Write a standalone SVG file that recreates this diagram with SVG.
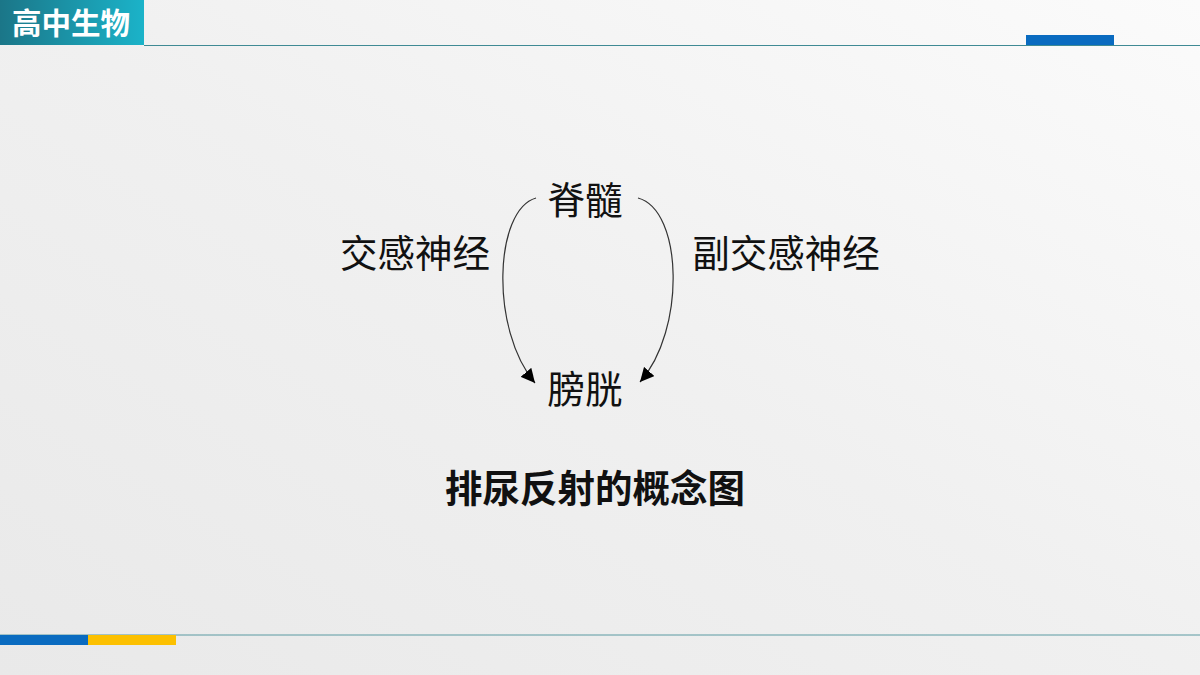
<svg xmlns="http://www.w3.org/2000/svg" width="1200" height="675" viewBox="0 0 1200 675">
<defs>
<linearGradient id="bg" x1="0" y1="1" x2="1" y2="0">
<stop offset="0" stop-color="#e9e9e9"/>
<stop offset="0.5" stop-color="#f0f0f0"/>
<stop offset="1" stop-color="#fbfbfb"/>
</linearGradient>
<linearGradient id="hd" x1="0" y1="0" x2="1" y2="0">
<stop offset="0" stop-color="#1b7688"/>
<stop offset="1" stop-color="#1bb3c9"/>
</linearGradient>
<marker id="ah" viewBox="0 0 10 10" refX="10" refY="5" markerWidth="14" markerHeight="14" markerUnits="userSpaceOnUse" orient="auto">
<path d="M0,0 L10,5 L0,10 z" fill="#000"/>
</marker>
<style>
.t{font-family:"Liberation Sans","Noto Sans CJK SC",sans-serif;fill:#111;font-size:37.5px;}
.c{fill:none;stroke:#333;stroke-width:1.2;}
</style>
</defs>
<rect width="1200" height="675" fill="url(#bg)"/>
<g id="header">
<rect x="0" y="0" width="144" height="45" fill="url(#hd)"/>
<text x="71" y="34" text-anchor="middle" font-family="'Noto Sans CJK SC',sans-serif" font-weight="bold" font-size="29.5" fill="#fff">高中生物</text>
<line x1="144" y1="45.5" x2="1200" y2="45.5" stroke="#3f8a94" stroke-width="1.2"/>
<rect x="1026" y="35" width="88" height="10" fill="#0a6bc0"/>
</g>
<g id="footer">
<line x1="0" y1="635" x2="1200" y2="635" stroke="#5a9aa2" stroke-width="1"/>
<rect x="0" y="635" width="88" height="10" fill="#0a6bc0"/>
<rect x="88" y="635" width="88" height="10" fill="#fcc000"/>
</g>
<g id="connectors">
<path class="c" d="M536,198 C494,210 490,330 535,383" marker-end="url(#ah)"/>
<path class="c" d="M638,198 C683,210 686,330 640,382" marker-end="url(#ah)"/>
</g>
<g id="node-spinal"><text class="t" x="585" y="214" text-anchor="middle">脊髓</text></g>
<g id="node-bladder"><text class="t" x="585" y="403" text-anchor="middle">膀胱</text></g>
<g id="label-sympathetic"><text class="t" x="415" y="267" text-anchor="middle">交感神经</text></g>
<g id="label-parasympathetic"><text class="t" x="786" y="267" text-anchor="middle">副交感神经</text></g>
<g id="title"><text x="595" y="502" text-anchor="middle" font-family="'Noto Sans CJK SC',sans-serif" font-weight="bold" font-size="37.5" fill="#111">排尿反射的概念图</text></g>
</svg>
